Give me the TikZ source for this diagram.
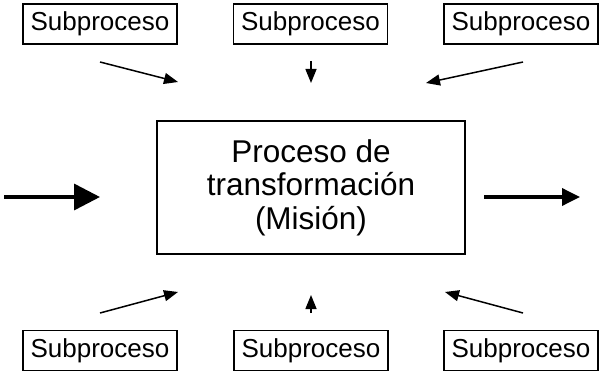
\documentclass[tikz,border=0pt]{standalone}
\usepackage{fontspec}
\setmainfont{Liberation Sans}
\usetikzlibrary{arrows.meta, positioning}

\tikzset{
  subbox/.style={draw, line width=1.5pt, minimum width=154pt, minimum height=40pt, inner sep=0pt, font=\fontsize{26}{30}\selectfont},
  procbox/.style={draw, line width=1.5pt, minimum width=308pt, minimum height=133pt, align=center, font=\fontsize{31.5}{33.5}\selectfont},
  thin arrow/.style={-{Triangle[length=14pt,width=11pt]}, line width=1.5pt},
}

\begin{document}
\begin{tikzpicture}[x=1pt, y=-1pt]
  \useasboundingbox (0,0) rectangle (601,371);

  % central process
  \node[procbox] (proc) at (311,187.5) {Proceso de\\transformación\\(Misión)};

  % subprocesses
  \node[subbox] (sub-tl) at (100,24) {Subproceso};
  \node[subbox] (sub-tm) at (310.5,24) {Subproceso};
  \node[subbox] (sub-tr) at (521,24) {Subproceso};
  \node[subbox] (sub-bl) at (100,350.5) {Subproceso};
  \node[subbox] (sub-bm) at (311,350.5) {Subproceso};
  \node[subbox] (sub-br) at (521,350.5) {Subproceso};

  % arrow ends
  \coordinate (tl-a) at (100,62);  \coordinate (tl-b) at (178,82);
  \coordinate (tm-a) at (311,61);  \coordinate (tm-b) at (311,83);
  \coordinate (tr-a) at (523,62);  \coordinate (tr-b) at (426,83);
  \coordinate (bl-a) at (100,313); \coordinate (bl-b) at (178,292);
  \coordinate (bm-a) at (311,313); \coordinate (bm-b) at (311,295);
  \coordinate (br-a) at (523,313); \coordinate (br-b) at (445,292);
  \coordinate (in-a) at (4,197);   \coordinate (in-b) at (100,197);
  \coordinate (out-a) at (484,197); \coordinate (out-b) at (580,197);

  \draw[thin arrow] (tl-a) -- (tl-b);
  \draw[thin arrow] (tm-a) -- (tm-b);
  \draw[thin arrow] (tr-a) -- (tr-b);
  \draw[thin arrow] (bl-a) -- (bl-b);
  \draw[thin arrow] (bm-a) -- (bm-b);
  \draw[thin arrow] (br-a) -- (br-b);

  % input and output
  \draw[-{Triangle[length=26pt,width=26pt]}, line width=3.5pt] (in-a) -- (in-b);
  \draw[-{Triangle[length=18pt,width=17pt]}, line width=3.5pt] (out-a) -- (out-b);
\end{tikzpicture}
\end{document}
